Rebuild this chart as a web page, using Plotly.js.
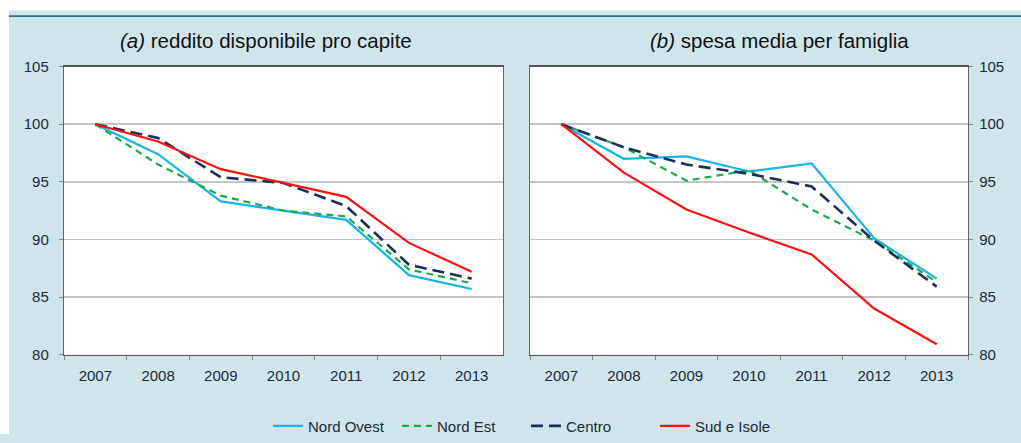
<!DOCTYPE html>
<html>
<head>
<meta charset="utf-8">
<script src="https://cdn.plot.ly/plotly-3.0.1.min.js"></script>
<style>html,body{margin:0;padding:0;background:#fff;}#chart{width:1021px;height:443px;}</style>
</head>
<body>
<div id="chart"></div>
<script>
var years = ['2007','2008','2009','2010','2011','2012','2013'];
var seriesNames = ['Nord Ovest','Nord Est','Centro','Sud e Isole'];
// (a) reddito disponibile pro capite
var redditoNordOvest = [100, 97.4, 93.3, 92.5, 91.7, 86.9, 85.7];
var redditoNordEst   = [100, 96.5, 93.8, 92.5, 92.0, 87.4, 86.2];
var redditoCentro    = [100, 98.8, 95.4, 94.9, 92.9, 87.8, 86.6];
var redditoSud       = [100, 98.5, 96.1, 94.9, 93.7, 89.7, 87.2];
// (b) spesa media per famiglia
var spesaNordOvest = [100, 97.0, 97.2, 95.9, 96.6, 90.1, 86.6];
var spesaNordEst   = [100, 98.0, 95.1, 96.0, 92.6, 89.9, 86.3];
var spesaCentro    = [100, 98.0, 96.5, 95.7, 94.6, 89.9, 85.9];
var spesaSud       = [100, 95.8, 92.6, 90.6, 88.7, 84.0, 80.9];
var yTicks = [80, 85, 90, 95, 100, 105];

var styles = [
  {color:'#16b4ec', width:2.2, dash:'solid'},
  {color:'#1daa4f', width:2.2, dash:'7px,5px'},
  {color:'#1b2f5c', width:2.6, dash:'12px,6px'},
  {color:'#ff1010', width:2.2, dash:'solid'}
];
var dataA = [redditoNordOvest, redditoNordEst, redditoCentro, redditoSud];
var dataB = [spesaNordOvest, spesaNordEst, spesaCentro, spesaSud];
var traces = [];
dataA.forEach(function(v,i){
  traces.push({x:years, y:v, xaxis:'x', yaxis:'y', type:'scatter', mode:'lines',
    name:seriesNames[i], legendgroup:seriesNames[i], line:styles[i]});
});
dataB.forEach(function(v,i){
  traces.push({x:years, y:v, xaxis:'x2', yaxis:'y2', type:'scatter', mode:'lines',
    name:seriesNames[i], legendgroup:seriesNames[i], showlegend:false, line:styles[i]});
});

var W = 1021, H = 443;
function px(x){return x/W;}
function py(y){return (H-y)/H;}
var tickFont = {family:'Liberation Sans, Arial, sans-serif', size:15, color:'#1e2a38'};
var xCommon = {type:'category', range:[-0.5,6.5], showgrid:false, showline:true, mirror:true,
  linecolor:'#555', linewidth:1.5, ticks:'outside', ticklen:4, tickcolor:'#888', tickwidth:1,
  tickson:'boundaries', tickfont:tickFont, zeroline:false, fixedrange:true, ticklabelstandoff:7};
var yCommon = {range:[80,105], tickvals:yTicks, showgrid:true, gridcolor:'#c4c4c4', gridwidth:1.5,
  showline:true, mirror:true, linecolor:'#666', linewidth:1.2, ticks:'outside', ticklen:4,
  tickcolor:'#888', tickfont:tickFont, zeroline:false, fixedrange:true};

var layout = {
  width:W, height:H, margin:{l:0,r:0,t:0,b:0},
  paper_bgcolor:'#d0e4eb', plot_bgcolor:'#ffffff',
  font:{family:'Liberation Sans, Arial, sans-serif', color:'#1e2a38'},
  showlegend:true,
  xaxis: Object.assign({}, xCommon, {domain:[px(64), px(503)], anchor:'y'}),
  yaxis: Object.assign({}, yCommon, {domain:[py(362), py(68)], anchor:'x', side:'left', ticklabelstandoff:7}),
  xaxis2: Object.assign({}, xCommon, {domain:[px(530), px(968)], anchor:'y2'}),
  yaxis2: Object.assign({}, yCommon, {domain:[py(362), py(68)], anchor:'x2', side:'right', ticklabelstandoff:3}),
  legend:{orientation:'h', x:px(268), xanchor:'left', y:py(435), yanchor:'middle',
    bgcolor:'rgba(0,0,0,0)', font:{family:'Liberation Sans, Arial, sans-serif', size:15, color:'#1e2a38'},
    entrywidth:84, entrywidthmode:'pixels', itemwidth:30, tracegroupgap:0},
  shapes:[
    {type:'rect', xref:'paper', yref:'paper', x0:0, x1:1, y0:py(11), y1:1, fillcolor:'#ffffff', line:{width:0}},
    {type:'rect', xref:'paper', yref:'paper', x0:0, x1:px(9), y0:0, y1:1, fillcolor:'#ffffff', line:{width:0}},
    {type:'line', xref:'paper', yref:'paper', x0:px(9), x1:1, y0:py(16.5), y1:py(16.5), line:{color:'#2b6f86', width:1.6}}
  ],
  annotations:[
    {text:'<i>(a)</i> reddito disponibile pro capite', xref:'paper', yref:'paper', x:px(265.5), y:py(41),
      xanchor:'center', yanchor:'middle', showarrow:false, font:{size:20.5, color:'#111', family:'Liberation Sans, Arial, sans-serif'}},
    {text:'<i>(b)</i> spesa media per famiglia', xref:'paper', yref:'paper', x:px(779), y:py(41),
      xanchor:'center', yanchor:'middle', showarrow:false, font:{size:20.5, color:'#111', family:'Liberation Sans, Arial, sans-serif'}}
  ]
};
Plotly.newPlot('chart', traces, layout, {displayModeBar:false, staticPlot:true});
</script>
</body>
</html>
